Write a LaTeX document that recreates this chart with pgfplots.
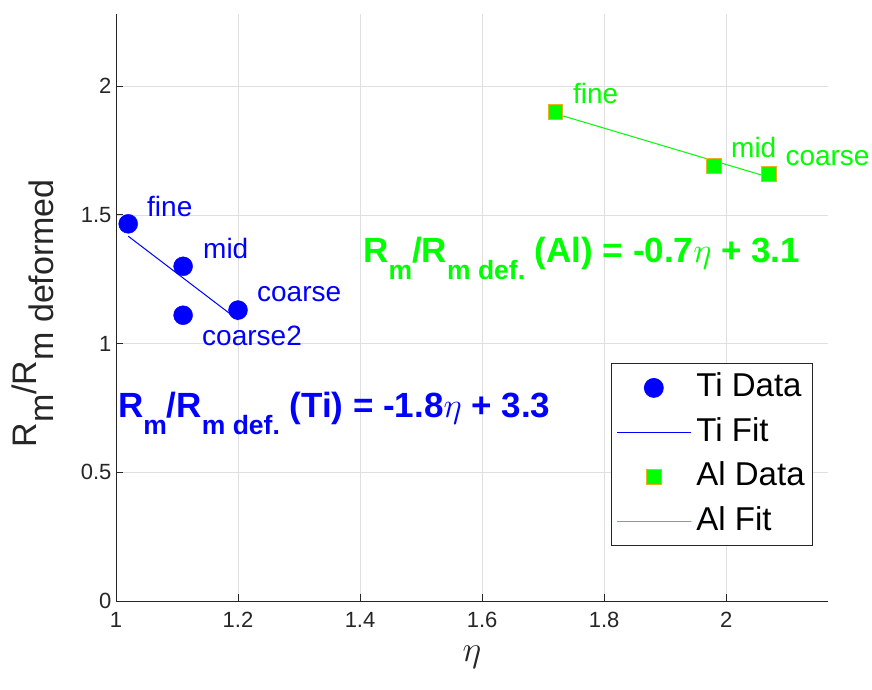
\RequirePackage{fix-cm}
\documentclass[border=0pt]{standalone}
\usepackage{pgfplots}
\pgfplotsset{compat=1.18}
\usepackage{fontspec}
\setmainfont{Liberation Sans}
\definecolor{axgray}{RGB}{38,38,38}
\definecolor{gridgray}{RGB}{223,223,223}
\definecolor{edgeorange}{RGB}{237,177,32}
\definecolor{algreen}{RGB}{0,255,0}
\newcommand{\fs}[1]{\fontsize{#1}{#1}\selectfont}
\begin{document}
\begin{tikzpicture}
\useasboundingbox (-116pt,-88pt) rectangle (756pt,601pt);
\begin{axis}[
  at={(0pt,0pt)}, anchor=south west,
  scale only axis, width=712pt, height=587pt,
  xmin=1, xmax=2.167, ymin=0, ymax=2.28,
  clip=false,
  axis lines=left, axis line style={-, draw=axgray, line width=0.9pt},
  tick align=inside, major tick length=7pt, tick style={axgray, line width=0.8pt},
  xtick={1,1.2,1.4,1.6,1.8,2},
  ytick={0,0.5,1,1.5,2},
  grid=major, grid style={gridgray, line width=0.6pt},
  ticklabel style={font=\fs{22}, text=axgray},
  /pgf/number format/assume math mode=true,
  xticklabel style={yshift=-8pt},
  yticklabel style={xshift=-1pt},
  xlabel={$\eta$},
  xlabel style={font=\fs{36}, text=axgray, at={(axis description cs:0.5,-0.0954)}, anchor=center},
  ylabel={R\raisebox{-17.5pt}{m}/R\raisebox{-17.5pt}{m deformed}},
  ylabel style={font=\fs{34}, text=axgray, at={(axis description cs:-0.1166,0.49)}, anchor=center},
  legend image code/.code={\draw[mark repeat=2,mark phase=2,#1] plot coordinates {(0pt,0pt) (37pt,0pt) (74pt,0pt)};},
  legend style={at={(axis description cs:0.979,0.405)}, anchor=north east, draw=axgray, line width=0.8pt, fill=white,
    font=\fs{33}, inner xsep=5pt, inner ysep=2pt,
    nodes={inner xsep=3pt, inner ysep=7pt, text height=24pt, text depth=6.5pt},
    /tikz/every odd column/.append style={column sep=2pt}},
  legend cell align=left,
]
\addplot[only marks, mark=*, mark size=9.5pt, color=blue] coordinates {(1.02,1.465) (1.11,1.30) (1.2,1.13) (1.11,1.11)};
\addlegendentry{Ti Data}
\addplot[blue, line width=1pt, no marks,
  legend image code/.code={\draw[blue, line width=1.2pt] (0pt,0pt) -- (74pt,0pt);}] coordinates {(1.02,1.417) (1.2,1.092)};
\addlegendentry{Ti Fit}
\addplot[only marks, mark=square*, mark size=7.3pt, mark options={fill=algreen, draw=edgeorange, line width=0.8pt}] coordinates {(1.72,1.90) (1.98,1.69) (2.07,1.66)};
\addlegendentry{Al Data}
\addplot[algreen, line width=1pt, no marks,
  legend image code/.code={\draw[algreen, line width=1.2pt] (0pt,0pt) -- (74pt,0pt);}] coordinates {(1.72,1.893) (2.07,1.646)};
\addlegendentry{Al Fit}
% point labels
\node[anchor=base west, inner sep=0, font=\fs{28}, text=blue] at (axis cs:1.0508,1.4917) {fine};
\node[anchor=base west, inner sep=0, font=\fs{28}, text=blue] at (axis cs:1.1426,1.332) {mid};
\node[anchor=base west, inner sep=0, font=\fs{28}, text=blue] at (axis cs:1.231,1.165) {coarse};
\node[anchor=base west, inner sep=0, font=\fs{28}, text=blue] at (axis cs:1.141,0.994) {coarse2};
\node[anchor=base west, inner sep=0, font=\fs{28}, text=algreen] at (axis cs:1.749,1.934) {fine};
\node[anchor=base west, inner sep=0, font=\fs{28}, text=algreen] at (axis cs:2.008,1.724) {mid};
\node[anchor=base west, inner sep=0, font=\fs{28}, text=algreen] at (axis cs:2.097,1.690) {coarse};
% equations
\node[anchor=base west, inner sep=0, font=\bfseries\fs{35}, text=blue] at (axis cs:1.003,0.714)
  {R\raisebox{-17pt}{\fs{26.5}m}/R\raisebox{-17pt}{\fs{26.5}m def.} (Ti) = -1.8$\eta$ + 3.3};
\node[anchor=base west, inner sep=0, font=\bfseries\fs{35}, text=algreen] at (axis cs:1.405,1.316)
  {R\raisebox{-17pt}{\fs{26.5}m}/R\raisebox{-17pt}{\fs{26.5}m def.} (Al) = -0.7$\eta$ + 3.1};
\end{axis}
\end{tikzpicture}
\end{document}
